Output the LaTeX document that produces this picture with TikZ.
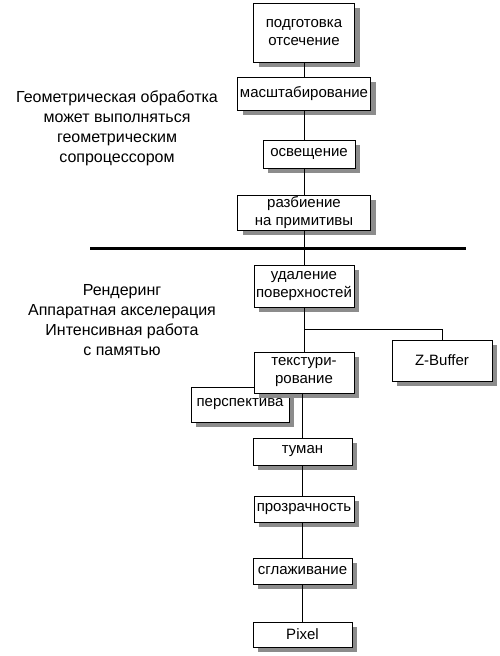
\documentclass[tikz,border=0pt]{standalone}
\usepackage{fontspec}
\setmainfont{Liberation Sans}
\usetikzlibrary{positioning,shadows}

\begin{document}
\begin{tikzpicture}[x=1pt,y=-1pt,
  box/.style={draw,fill=white,line width=0.9pt,inner sep=0pt,align=center,
    font=\fontsize{15}{18}\selectfont,
    drop shadow={shadow xshift=5pt,shadow yshift=-5pt,fill=black!45,opacity=1}},
  note/.style={align=center,inner sep=0pt,font=\fontsize{16}{20}\selectfont},
  link/.style={line width=0.9pt}]
  \useasboundingbox (0,0) rectangle (500,656);
  % geometry stage
  \node[box,minimum width=101pt,minimum height=59pt] (prep) at (304,32.5) {подготовка\\отсечение};
  \node[box,minimum width=133pt,minimum height=33pt] (scale) at (304,93.5) {масштабирование};
  \node[box,minimum width=92pt,minimum height=28pt] (light) at (309,154) {освещение};
  \node[box,minimum width=133pt,minimum height=35pt] (split) at (304,212.5) {разбиение\\на примитивы};
  \node[note] (geom) at (117,128) {Геометрическая обработка\\может выполняться\\геометрическим\\сопроцессором};
  \draw[line width=3pt] (90,248) -- (466,248);
  % rendering stage
  \node[box,minimum width=100pt,minimum height=42pt] (hide) at (304,286) {удаление\\поверхностей};
  \node[box,minimum width=100pt,minimum height=41pt] (zbuf) at (442,360.5) {Z-Buffer};
  \node[box,minimum width=98pt,minimum height=35pt] (persp) at (240,404.5) {перспектива};
  \node[box,minimum width=100pt,minimum height=41pt] (tex) at (304,372.5) {текстури-\\рование};
  \node[box,minimum width=99pt,minimum height=27pt] (fog) at (302.5,451.5) {туман};
  \node[box,minimum width=100pt,minimum height=26pt] (alpha) at (304,509) {прозрачность};
  \node[box,minimum width=99pt,minimum height=26pt] (smooth) at (302.5,571) {сглаживание};
  \node[box,minimum width=99pt,minimum height=25pt] (pix) at (302.5,634.5) {Pixel};
  \node[note] (rend) at (122,320) {Рендеринг\\Аппаратная акселерация\\Интенсивная работа\\с памятью};
  \coordinate (fork) at (304,329);

  \draw[link] (prep) -- (scale);
  \draw[link] (scale) -- (scale |- light.north);
  \draw[link] (scale |- light.south) -- (split);
  \draw[link] (split) -- (hide);
  \draw[link] (hide) -- (tex);
  \draw[link] (fork) -| (zbuf);
  \draw[link] (tex.south -| fog) -- (fog);
  \draw[link] (fog) -- (fog |- alpha.north);
  \draw[link] (fog |- alpha.south) -- (smooth);
  \draw[link] (smooth) -- (pix);
\end{tikzpicture}
\end{document}
